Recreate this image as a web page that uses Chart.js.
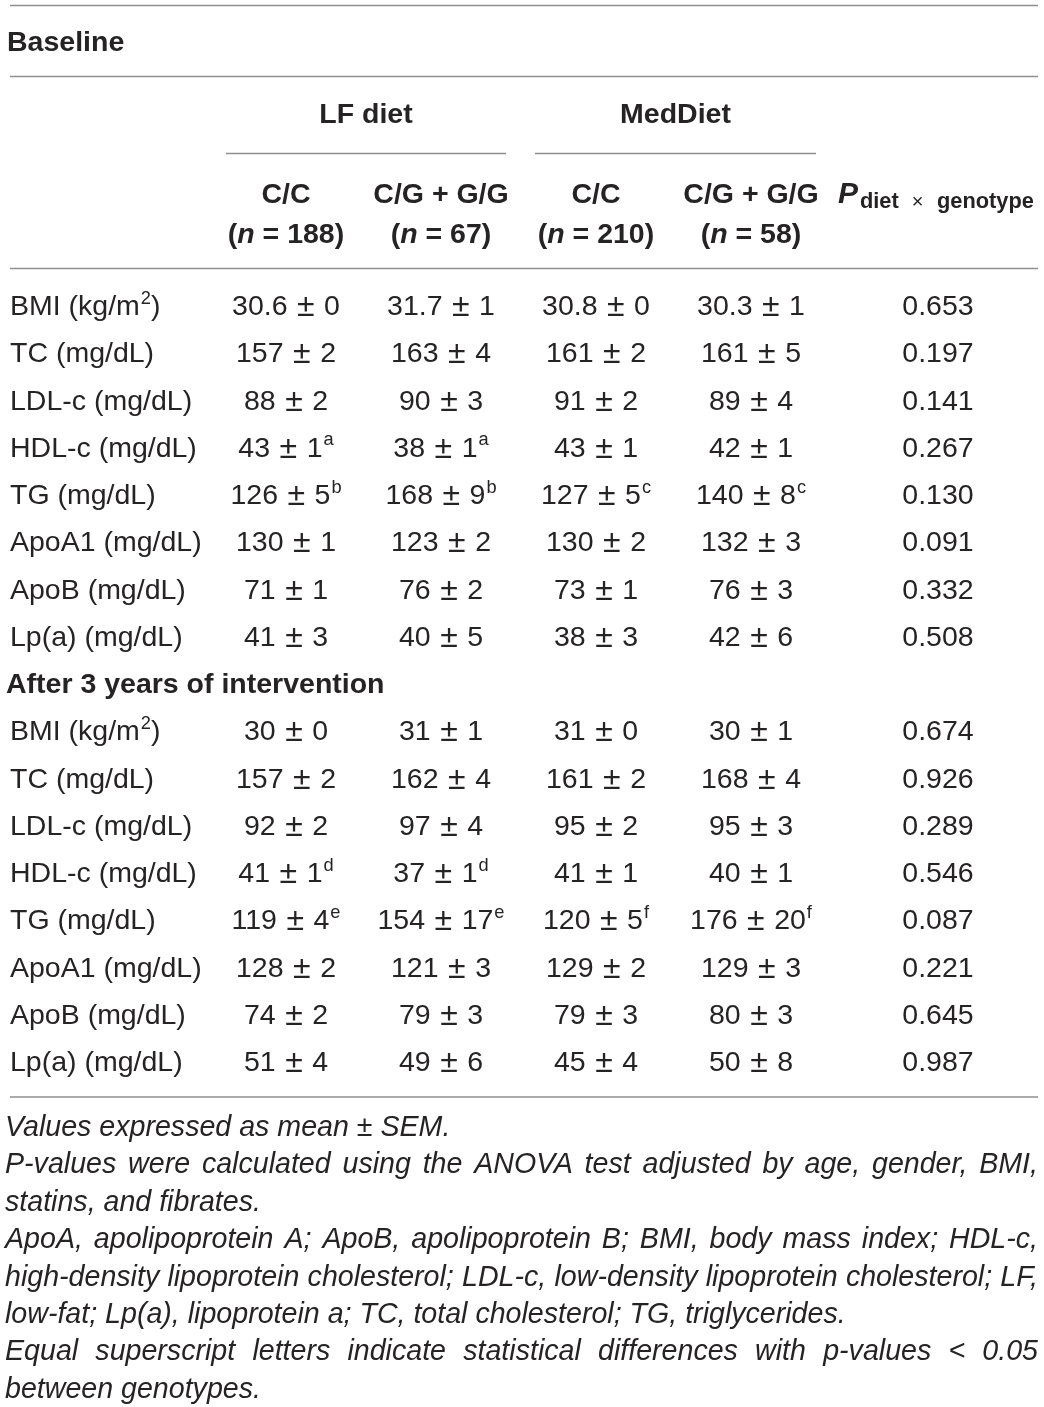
<!DOCTYPE html>
<html>
<head>
<meta charset="utf-8">
<script src="https://cdn.jsdelivr.net/npm/chart.js@4.4.1/dist/chart.umd.min.js"></script>
<style>
  html, body { margin: 0; padding: 0; background: #fff; }
  #tabela { display: block; }
</style>
</head>
<body>
<canvas id="tabela" width="1044" height="1407"></canvas>
<script>
// dados da tabela
const grupos = ['LF diet', 'MedDiet'];
const genotipos = ['C/C', 'C/G + G/G', 'C/C', 'C/G + G/G'];
const nGrupo = [188, 67, 210, 58];
const secoes = ['Baseline', 'After 3 years of intervention'];
const variaveis = ['BMI (kg/m^2)', 'TC (mg/dL)', 'LDL-c (mg/dL)', 'HDL-c (mg/dL)',
  'TG (mg/dL)', 'ApoA1 (mg/dL)', 'ApoB (mg/dL)', 'Lp(a) (mg/dL)'];

// baseline
const baseLfCCMedia = [30.6, 157, 88, 43, 126, 130, 71, 41];
const baseLfCCErro  = [0, 2, 2, 1, 5, 1, 1, 3];
const baseLfCGMedia = [31.7, 163, 90, 38, 168, 123, 76, 40];
const baseLfCGErro  = [1, 4, 3, 1, 9, 2, 2, 5];
const baseMedCCMedia = [30.8, 161, 91, 43, 127, 130, 73, 38];
const baseMedCCErro  = [0, 2, 2, 1, 5, 2, 1, 3];
const baseMedCGMedia = [30.3, 161, 89, 42, 140, 132, 76, 42];
const baseMedCGErro  = [1, 5, 4, 1, 8, 3, 3, 6];
const baseSupLf  = ['', '', '', 'a', 'b', '', '', ''];
const baseSupMed = ['', '', '', '', 'c', '', '', ''];
const baseP = ['0.653', '0.197', '0.141', '0.267', '0.130', '0.091', '0.332', '0.508'];

// apos 3 anos
const fimLfCCMedia = [30, 157, 92, 41, 119, 128, 74, 51];
const fimLfCCErro  = [0, 2, 2, 1, 4, 2, 2, 4];
const fimLfCGMedia = [31, 162, 97, 37, 154, 121, 79, 49];
const fimLfCGErro  = [1, 4, 4, 1, 17, 3, 3, 6];
const fimMedCCMedia = [31, 161, 95, 41, 120, 129, 79, 45];
const fimMedCCErro  = [0, 2, 2, 1, 5, 2, 3, 4];
const fimMedCGMedia = [30, 168, 95, 40, 176, 129, 80, 50];
const fimMedCGErro  = [1, 4, 3, 1, 20, 3, 3, 8];
const fimSupLf  = ['', '', '', 'd', 'e', '', '', ''];
const fimSupMed = ['', '', '', '', 'f', '', '', ''];
const fimP = ['0.674', '0.926', '0.289', '0.546', '0.087', '0.221', '0.645', '0.987'];

const notas = [
  ['Values expressed as mean \u00b1 SEM.', false],
  ['P-values were calculated using the ANOVA test adjusted by age, gender, BMI,', true],
  ['statins, and fibrates.', false],
  ['ApoA, apolipoprotein A; ApoB, apolipoprotein B; BMI, body mass index; HDL-c,', true],
  ['high-density lipoprotein cholesterol; LDL-c, low-density lipoprotein cholesterol; LF,', true],
  ['low-fat; Lp(a), lipoprotein a; TC, total cholesterol; TG, triglycerides.', false],
  ['Equal superscript letters indicate statistical differences with p-values < 0.05', true],
  ['between genotypes.', false]
];

// layout
const corTexto = '#262324';
const corLinha = '#8f8f8f';
const fonte = "'Liberation Sans', Arial, Helvetica, sans-serif";
const colX = [286, 441, 596, 751, 938];
const labelX = 10;
const linha0 = 305;
const passoLinha = 47.25;
const notaY0 = 1126;
const passoNota = 37.4;

function fmt(v) { return String(v); }

function montarSecao(lfCCm, lfCCe, lfCGm, lfCGe, medCCm, medCCe, medCGm, medCGe, supLf, supMed, p) {
  return variaveis.map((v, i) => ({
    label: v,
    cells: [
      [fmt(lfCCm[i]), fmt(lfCCe[i]), supLf[i]],
      [fmt(lfCGm[i]), fmt(lfCGe[i]), supLf[i]],
      [fmt(medCCm[i]), fmt(medCCe[i]), supMed[i]],
      [fmt(medCGm[i]), fmt(medCGe[i]), supMed[i]]
    ],
    p: p[i]
  }));
}

const linhasBase = montarSecao(baseLfCCMedia, baseLfCCErro, baseLfCGMedia, baseLfCGErro,
  baseMedCCMedia, baseMedCCErro, baseMedCGMedia, baseMedCGErro, baseSupLf, baseSupMed, baseP);
const linhasFim = montarSecao(fimLfCCMedia, fimLfCCErro, fimLfCGMedia, fimLfCGErro,
  fimMedCCMedia, fimMedCCErro, fimMedCGMedia, fimMedCGErro, fimSupLf, fimSupMed, fimP);

const desenhaTabela = {
  id: 'desenhaTabela',
  afterDraw(chart) {
    const ctx = chart.ctx;
    const sx = chart.scales.x, sy = chart.scales.y;
    const X = v => sx.getPixelForValue(v);
    const Y = v => sy.getPixelForValue(v);

    ctx.save();
    ctx.fillStyle = corTexto;
    ctx.textBaseline = 'alphabetic';

    function regra(x1, x2, y) {
      ctx.save();
      ctx.strokeStyle = corLinha;
      ctx.lineWidth = 1.5;
      ctx.beginPath();
      ctx.moveTo(X(x1), Y(y));
      ctx.lineTo(X(x2), Y(y));
      ctx.stroke();
      ctx.restore();
    }

    // texto com expoente: 'BMI (kg/m^2)'
    function textoRico(str, x, base, tam) {
      const partes = str.split(/\^(\w)/);
      let cx = x;
      partes.forEach((t, k) => {
        if (!t) return;
        if (k % 2 === 1) {
          ctx.font = (tam * 0.64) + 'px ' + fonte;
          ctx.fillText(t, cx + 1, base - tam * 0.4);
          cx += ctx.measureText(t).width + 1;
        } else {
          ctx.font = tam + 'px ' + fonte;
          ctx.fillText(t, cx, base);
          cx += ctx.measureText(t).width;
        }
      });
    }

    function valor(m, e, sup, cx, base) {
      const tam = 28.5, gap = 9.5;
      ctx.font = tam + 'px ' + fonte;
      const wm = ctx.measureText(m).width;
      const we = ctx.measureText(e).width;
      ctx.font = '32px ' + fonte;
      const wpm = ctx.measureText('\u00b1').width;
      ctx.font = (tam * 0.64) + 'px ' + fonte;
      const wsup = sup ? ctx.measureText(sup).width + 1 : 0;
      let x = cx - (wm + gap + wpm + gap + we + wsup) / 2;
      ctx.font = tam + 'px ' + fonte;
      ctx.fillText(m, x, base); x += wm + gap;
      ctx.font = '32px ' + fonte;
      ctx.fillText('\u00b1', x, base + 1); x += wpm + gap;
      ctx.font = tam + 'px ' + fonte;
      ctx.fillText(e, x, base); x += we;
      if (sup) {
        ctx.font = (tam * 0.64) + 'px ' + fonte;
        ctx.fillText(sup, x + 1, base - tam * 0.4);
      }
    }

    // linhas horizontais
    regra(10, 1038, 5.5);
    regra(10, 1038, 76.5);
    regra(226, 506, 153.5);
    regra(535, 816, 153.5);
    regra(10, 1038, 268.5);
    regra(10, 1038, 1097);

    // secao baseline
    ctx.font = 'bold 28.5px ' + fonte;
    ctx.textAlign = 'left';
    ctx.fillText(secoes[0], X(7), Y(51));

    // cabecalho
    ctx.textAlign = 'center';
    ctx.font = 'bold 28.5px ' + fonte;
    ctx.fillText(grupos[0], X(366), Y(123));
    ctx.fillText(grupos[1], X(675.5), Y(123));
    genotipos.forEach((g, i) => {
      ctx.textAlign = 'center';
      ctx.font = 'bold 28.5px ' + fonte;
      ctx.fillText(g, X(colX[i]), Y(203));
      // (n = 188)
      const a = '(', b = 'n', c = ' = ' + nGrupo[i] + ')';
      ctx.font = 'bold 28.5px ' + fonte;
      const wa = ctx.measureText(a).width, wc = ctx.measureText(c).width;
      ctx.font = 'italic bold 28.5px ' + fonte;
      const wb = ctx.measureText(b).width;
      let x = X(colX[i]) - (wa + wb + wc) / 2;
      ctx.textAlign = 'left';
      ctx.font = 'bold 28.5px ' + fonte;
      ctx.fillText(a, x, Y(243)); x += wa;
      ctx.font = 'italic bold 28.5px ' + fonte;
      ctx.fillText(b, x, Y(243)); x += wb;
      ctx.font = 'bold 28.5px ' + fonte;
      ctx.fillText(c, x, Y(243));
    });

    // P diet x genotype
    ctx.textAlign = 'left';
    ctx.font = 'italic bold 30px ' + fonte;
    ctx.fillText('P', X(838), Y(203));
    ctx.font = 'bold 21.8px ' + fonte;
    ctx.fillText('diet', X(860), Y(208));
    ctx.font = '20px ' + fonte;
    ctx.textAlign = 'center';
    ctx.fillText('\u00d7', X(917.5), Y(208));
    ctx.font = 'bold 21.8px ' + fonte;
    ctx.textAlign = 'left';
    ctx.fillText('genotype', X(937), Y(208));

    function corpo(linhas, inicio) {
      linhas.forEach((r, i) => {
        const base = Y(linha0 + (inicio + i) * passoLinha + 10);
        ctx.textAlign = 'left';
        textoRico(r.label, X(labelX), base, 28.5);
        r.cells.forEach((c, j) => valor(c[0], c[1], c[2], X(colX[j]), base));
        ctx.textAlign = 'center';
        ctx.font = '28.5px ' + fonte;
        ctx.fillText(r.p, X(colX[4]), base);
      });
    }

    corpo(linhasBase, 0);
    ctx.textAlign = 'left';
    ctx.font = 'bold 28.5px ' + fonte;
    ctx.fillText(secoes[1], X(6), Y(linha0 + 8 * passoLinha + 10));
    corpo(linhasFim, 9);

    // notas de rodape
    ctx.textAlign = 'left';
    ctx.font = 'italic 28.6px ' + fonte;
    const esq = X(5), dir = X(1038);
    notas.forEach((n, i) => {
      const base = Y(notaY0 + i * passoNota + 10);
      if (!n[1]) { ctx.fillText(n[0], esq, base); return; }
      const pal = n[0].split(' ');
      const ws = pal.map(p => ctx.measureText(p).width);
      const soma = ws.reduce((a, b) => a + b, 0);
      const g = (dir - esq - soma) / (pal.length - 1);
      let x = esq;
      pal.forEach((p, k) => { ctx.fillText(p, x, base); x += ws[k] + g; });
    });

    ctx.restore();
  }
};

const ctx = document.getElementById('tabela').getContext('2d');
new Chart(ctx, {
  type: 'scatter',
  data: { datasets: [{ data: [], pointRadius: 0 }] },
  options: {
    responsive: false,
    animation: false,
    devicePixelRatio: 1,
    layout: { padding: 0 },
    plugins: { legend: { display: false }, tooltip: { enabled: false } },
    scales: {
      x: { type: 'linear', min: 0, max: 1044, display: false },
      y: { type: 'linear', min: 0, max: 1407, reverse: true, display: false }
    }
  },
  plugins: [desenhaTabela]
});
</script>
</body>
</html>
